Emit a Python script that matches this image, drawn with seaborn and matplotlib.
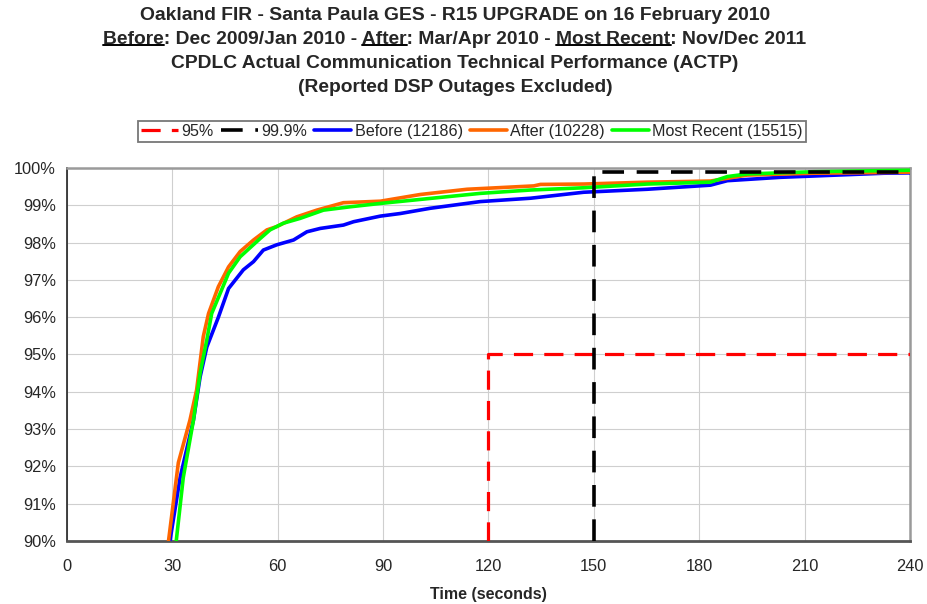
import matplotlib
matplotlib.use("Agg")
import matplotlib.pyplot as plt
from matplotlib.lines import Line2D
import seaborn as sns
import pandas as pd

# ---------------- data ----------------
before_t = [29.3, 32.2, 36.0, 37.9, 39.8, 43.1, 46.0, 50.2, 53.1, 55.9, 59.7, 64.5, 68.3, 72.1,
            78.7, 81.6, 89.2, 94.9, 103.4, 117.7, 132.0, 147.1, 165.2, 183.2, 188.0, 203.1, 232.6, 240.0]
before_v = [90.0, 91.7, 93.24, 94.4, 95.2, 96.0, 96.77, 97.27, 97.49, 97.8, 97.94, 98.07, 98.29, 98.38,
            98.47, 98.56, 98.71, 98.78, 98.92, 99.10, 99.19, 99.35, 99.43, 99.54, 99.66, 99.75, 99.86, 99.87]

after_t = [28.9, 31.7, 35.0, 36.9, 38.8, 40.3, 43.1, 46.0, 49.3, 53.1, 56.9, 59.7, 65.4, 71.1,
           78.7, 89.2, 100.6, 107.2, 113.9, 132.9, 134.8, 147.1, 165.2, 183.2, 193.6, 212.6, 232.6, 240.0]
after_v = [90.0, 92.1, 93.24, 94.05, 95.48, 96.1, 96.82, 97.35, 97.76, 98.07, 98.34, 98.43, 98.69, 98.87,
           99.07, 99.11, 99.29, 99.36, 99.43, 99.52, 99.56, 99.57, 99.62, 99.65, 99.81, 99.86, 99.88, 99.89]

recent_t = [31.1, 33.1, 36.0, 37.9, 39.8, 41.2, 46.0, 49.3, 55.0, 57.8, 61.6, 66.4, 73.0, 80.6,
            89.2, 108.2, 117.7, 132.0, 147.1, 165.2, 183.2, 188.0, 193.6, 212.6, 232.6, 240.0]
recent_v = [90.0, 91.7, 93.24, 94.5, 95.39, 96.1, 97.18, 97.62, 98.11, 98.34, 98.52, 98.65, 98.87, 98.96,
            99.05, 99.23, 99.32, 99.41, 99.47, 99.57, 99.62, 99.77, 99.84, 99.90, 99.93, 99.94]

series_names = ["Before (12186)", "After (10228)", "Most Recent (15515)"]
series_colors = ["#0000ff", "#ff6600", "#00ff00"]

# reference requirement lines: (time, percentage)
req95_t = [120, 120, 240]
req95_v = [90, 95, 95]
req999_t = [150, 150, 240]
req999_v = [90, 99.9, 99.9]
ref_names = ["95%", "99.9%"]
ref_colors = ["#ff0000", "#000000"]

x_ticks = [0, 30, 60, 90, 120, 150, 180, 210, 240]
y_ticks = [90, 91, 92, 93, 94, 95, 96, 97, 98, 99, 100]

title_lines = [
    "Oakland FIR - Santa Paula GES - R15 UPGRADE on 16 February 2010",
    "Before: Dec 2009/Jan 2010 - After: Mar/Apr 2010 - Most Recent: Nov/Dec 2011",
    "CPDLC Actual Communication Technical Performance (ACTP)",
    "(Reported DSP Outages Excluded)",
]
underlined = ["Before", "After", "Most Recent"]
x_label = "Time (seconds)"

# ---------------- style ----------------
sns.set_style("white")
FONT = ["Liberation Sans", "DejaVu Sans"]
plt.rcParams["font.family"] = FONT

df = pd.concat([
    pd.DataFrame({"t": before_t, "v": before_v, "series": series_names[0]}),
    pd.DataFrame({"t": after_t, "v": after_v, "series": series_names[1]}),
    pd.DataFrame({"t": recent_t, "v": recent_v, "series": series_names[2]}),
], ignore_index=True)

fig = plt.figure(figsize=(9.28, 6.04), dpi=100)
ax = fig.add_axes([67 / 928, 1 - 541 / 604, (910 - 67) / 928, (541 - 168) / 604])

ax.grid(True, color="#cfcfcf", lw=0.8)
ax.set_axisbelow(True)

sns.lineplot(data=df, x="t", y="v", hue="series", palette=dict(zip(series_names, series_colors)),
             hue_order=series_names, sort=False, estimator=None, lw=2.6, legend=False, ax=ax,
             zorder=3)

dash = (6, 3.5)
ax.plot(req95_t, req95_v, color=ref_colors[0], lw=2.3, dashes=dash, zorder=4)
ax.plot(req999_t, req999_v, color=ref_colors[1], lw=2.6, dashes=dash, zorder=4)

ax.set_xlim(0, 240)
ax.set_ylim(90, 100)
ax.set_xticks(x_ticks)
ax.set_xticklabels([str(x) for x in x_ticks])
ax.set_yticks(y_ticks)
ax.set_yticklabels([f"{y}%" for y in y_ticks])
ax.tick_params(axis="both", which="major", labelsize=11.8, length=5, width=1,
               direction="out", color="#333333", pad=3)
ax.tick_params(axis="x", pad=8)
ax.set_xlabel(x_label, fontsize=11.5, fontweight="bold", labelpad=9)
ax.set_ylabel("")

for side in ["left", "bottom"]:
    ax.spines[side].set_color("#222222")
    ax.spines[side].set_linewidth(1.2)
for side in ["top", "right"]:
    ax.spines[side].set_color("#9a9a9a")
    ax.spines[side].set_linewidth(1.8)
ax.spines["bottom"].set_color("#555555")
ax.spines["bottom"].set_linewidth(2)

# legend
handles = [
    Line2D([], [], color=ref_colors[0], lw=2.3, dashes=dash),
    Line2D([], [], color=ref_colors[1], lw=2.6, dashes=dash),
] + [Line2D([], [], color=c, lw=2.6) for c in series_colors]
labels = ref_names + series_names
leg = fig.legend(handles, labels, loc="center", bbox_to_anchor=(472 / 928, 1 - 131.5 / 604),
                 ncol=5, fontsize=11.6, frameon=True, fancybox=False, handlelength=2.3,
                 handletextpad=0.2, columnspacing=0.45, borderpad=0.2, borderaxespad=0)
leg.get_frame().set_edgecolor("#555555")
leg.get_frame().set_linewidth(1.3)

# title (four lines, underlined words on line 2)
TFS = 13.9
title_y = [16, 39, 63, 87]
cx = 455 / 928
fig.canvas.draw()
renderer = fig.canvas.get_renderer()
W, H = fig.get_size_inches() * fig.dpi


def width_of(s):
    t = fig.text(0, 0, s, fontsize=TFS, fontweight="bold")
    w = t.get_window_extent(renderer).width
    t.remove()
    return w


for i, line in enumerate(title_lines):
    yf = 1 - title_y[i] / 604
    if i != 1:
        fig.text(cx, yf, line, ha="center", va="center", fontsize=TFS, fontweight="bold")
    else:
        full_w = width_of(line)
        x0 = cx * W - full_w / 2
        t = fig.text(x0 / W, yf, line, ha="left", va="center", fontsize=TFS, fontweight="bold")
        bb = t.get_window_extent(renderer)
        uy = (bb.y0 + 2.2) / H
        for word in underlined:
            idx = line.index(word)
            suffix = line[idx:]
            start = x0 + full_w - width_of(suffix)
            end = start + width_of(word)
            fig.add_artist(Line2D([start / W, end / W], [uy, uy], color="black", lw=1.4,
                                  transform=fig.transFigure))

fig.savefig("out.png", dpi=100)
